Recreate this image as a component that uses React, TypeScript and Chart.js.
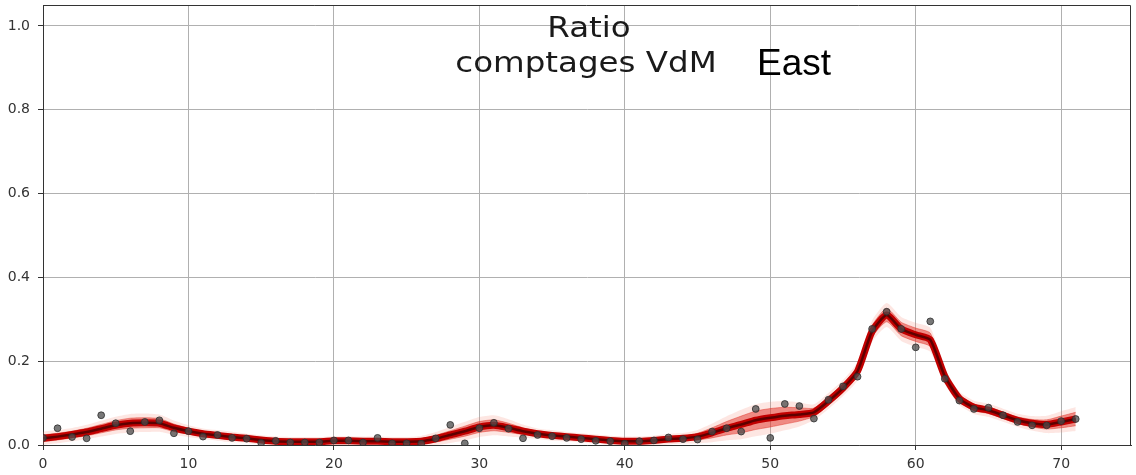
import { useEffect, useRef } from 'react';
import { Chart, registerables } from 'chart.js';

Chart.register(...registerables);

// hour index along the x axis
const hours = [
  0, 1, 2, 3, 4, 5, 6, 7, 8, 9,
  10, 11, 12, 13, 14, 15, 16, 17, 18, 19,
  20, 21, 22, 23, 24, 25, 26, 27, 28, 29,
  30, 31, 32, 33, 34, 35, 36, 37, 38, 39,
  40, 41, 42, 43, 44, 45, 46, 47, 48, 49,
  50, 51, 52, 53, 54, 55, 56, 57, 58, 59,
  60, 61, 62, 63, 64, 65, 66, 67, 68, 69,
  70, 71,
];

// measured count ratio (grey dots)
const observed = [
  0.017, 0.040, 0.019, 0.016, 0.071, 0.052, 0.033, 0.055, 0.059, 0.028,
  0.033, 0.020, 0.024, 0.017, 0.015, 0.005, 0.010, 0.006, 0.006, 0.006,
  0.011, 0.011, 0.006, 0.017, 0.004, 0.004, 0.003, 0.016, 0.048, 0.004,
  0.040, 0.053, 0.039, 0.016, 0.024, 0.021, 0.017, 0.014, 0.010, 0.009,
  0.003, 0.009, 0.011, 0.018, 0.014, 0.013, 0.032, 0.040, 0.032, 0.086,
  0.017, 0.098, 0.093, 0.063, 0.108, 0.140, 0.163, 0.277, 0.318, 0.277,
  0.233, 0.295, 0.158, 0.106, 0.086, 0.089, 0.071, 0.055, 0.047, 0.047,
  0.057, 0.062,
];

// fitted profile (dark red curve)
const trend = [
  0.016, 0.020, 0.025, 0.031, 0.039, 0.047, 0.052, 0.053, 0.052, 0.041,
  0.033, 0.027, 0.023, 0.019, 0.016, 0.012, 0.009, 0.008, 0.008, 0.008,
  0.010, 0.010, 0.009, 0.009, 0.008, 0.008, 0.009, 0.015, 0.024, 0.033,
  0.043, 0.047, 0.041, 0.033, 0.027, 0.023, 0.020, 0.017, 0.014, 0.011,
  0.009, 0.009, 0.011, 0.014, 0.016, 0.020, 0.029, 0.040, 0.049, 0.059,
  0.065, 0.070, 0.073, 0.078, 0.105, 0.136, 0.176, 0.271, 0.310, 0.277,
  0.263, 0.251, 0.164, 0.111, 0.090, 0.083, 0.071, 0.059, 0.052, 0.049,
  0.055, 0.062,
];

// half-width of the sampled band around the fit
const spread = [
  0.008, 0.008, 0.008, 0.009, 0.010, 0.011, 0.012, 0.012, 0.011, 0.009,
  0.007, 0.006, 0.006, 0.006, 0.005, 0.005, 0.005, 0.005, 0.005, 0.005,
  0.005, 0.005, 0.005, 0.005, 0.005, 0.005, 0.006, 0.008, 0.010, 0.012,
  0.013, 0.013, 0.011, 0.008, 0.006, 0.006, 0.005, 0.005, 0.005, 0.005,
  0.005, 0.005, 0.005, 0.006, 0.006, 0.008, 0.012, 0.016, 0.020, 0.022,
  0.022, 0.020, 0.016, 0.010, 0.010, 0.010, 0.012, 0.014, 0.016, 0.016,
  0.016, 0.016, 0.010, 0.008, 0.008, 0.008, 0.008, 0.008, 0.009, 0.011,
  0.014, 0.016,
];

const xTicks = [0, 10, 20, 30, 40, 50, 60, 70];
const yTicks = [0, 0.2, 0.4, 0.6, 0.8, 1.0];
const titleLines = ['Ratio', 'comptages VdM'];
const stationName = 'East';

const tickFont = { family: 'DejaVu Sans', size: 14 };

export default function App() {
  const canvasRef = useRef<HTMLCanvasElement>(null);

  useEffect(() => {
    document.body.style.margin = '0';
    const canvas = canvasRef.current;
    if (!canvas) return;

    const series = (vals: number[]) => hours.map((h, i) => ({ x: h, y: vals[i] }));
    const bandHi = hours.map((h, i) => ({ x: h, y: trend[i] + spread[i] }));
    const bandLo = hours.map((h, i) => ({ x: h, y: trend[i] - spread[i] }));
    const hazeHi = hours.map((h, i) => ({ x: h, y: trend[i] + spread[i] * 1.6 + 0.003 }));
    const hazeLo = hours.map((h, i) => ({ x: h, y: trend[i] - spread[i] * 1.6 - 0.003 }));

    const framePlugin = {
      id: 'frameAndTitle',
      afterDatasetsDraw(chart: Chart) {
        const { ctx, chartArea } = chart;
        ctx.save();
        ctx.strokeStyle = '#333';
        ctx.lineWidth = 1;
        ctx.beginPath();
        ctx.moveTo(chartArea.left, chartArea.top + 0.5);
        ctx.lineTo(chartArea.right - 0.5, chartArea.top + 0.5);
        ctx.lineTo(chartArea.right - 0.5, chartArea.bottom);
        ctx.stroke();
        ctx.restore();
      },
      afterDraw(chart: Chart) {
        const { ctx } = chart;
        ctx.save();
        ctx.fillStyle = '#1a1a1a';
        ctx.textAlign = 'center';
        ctx.textBaseline = 'alphabetic';
        ctx.font = '28px "DejaVu Sans"';
        // the heading is set a little wide
        ctx.save();
        ctx.translate(589, 37);
        ctx.scale(1.16, 1);
        ctx.fillText(titleLines[0], 0, 0);
        ctx.restore();
        ctx.save();
        ctx.translate(586, 72);
        ctx.scale(1.16, 1);
        ctx.fillText(titleLines[1], 0, 0);
        ctx.restore();
        ctx.fillStyle = '#000';
        ctx.textAlign = 'left';
        ctx.font = '37px "Liberation Sans"';
        ctx.fillText(stationName, 757, 75);
        ctx.restore();
      },
    };

    const chart = new Chart(canvas, {
      type: 'line',
      data: {
        datasets: [
          {
            label: 'observed',
            data: series(observed),
            showLine: false,
            pointRadius: 3.4,
            pointBackgroundColor: 'rgba(75,75,75,0.75)',
            pointBorderColor: 'rgba(45,45,45,0.8)',
            pointBorderWidth: 1,
          },
          {
            label: 'core',
            data: series(trend),
            borderColor: '#5e0000',
            borderWidth: 2.5,
            pointRadius: 0,
            tension: 0.2,
          },
          {
            label: 'trend',
            data: series(trend),
            borderColor: '#c20000',
            borderWidth: 7,
            pointRadius: 0,
            tension: 0.2,
          },
          {
            label: 'bandHi',
            data: bandHi,
            borderColor: 'rgba(225,50,40,0.45)',
            borderWidth: 1,
            pointRadius: 0,
            tension: 0.2,
            fill: '+1',
            backgroundColor: 'rgba(225,45,35,0.5)',
          },
          {
            label: 'bandLo',
            data: bandLo,
            borderColor: 'rgba(225,50,40,0.45)',
            borderWidth: 1,
            pointRadius: 0,
            tension: 0.2,
          },
          {
            label: 'hazeHi',
            data: hazeHi,
            borderWidth: 0,
            borderColor: 'rgba(0,0,0,0)',
            pointRadius: 0,
            tension: 0.2,
            fill: '+1',
            backgroundColor: 'rgba(245,130,110,0.2)',
          },
          {
            label: 'hazeLo',
            data: hazeLo,
            borderWidth: 0,
            borderColor: 'rgba(0,0,0,0)',
            pointRadius: 0,
            tension: 0.2,
          },
        ],
      },
      options: {
        animation: false,
        responsive: false,
        devicePixelRatio: 1,
        layout: { padding: { top: 2, right: 3, left: 0, bottom: 0 } },
        plugins: { legend: { display: false }, tooltip: { enabled: false } },
        scales: {
          x: {
            type: 'linear',
            min: 0,
            max: 74.8,
            afterFit: (s: any) => {
              s.height = 30;
              s.paddingLeft = 0;
              s.paddingRight = 0;
            },
            afterBuildTicks: (s: any) => { s.ticks = xTicks.map((v) => ({ value: v })); },
            grid: { color: '#b0b0b0', lineWidth: 1, tickLength: 5, tickColor: '#333' },
            border: { display: true, color: '#333', width: 1 },
            ticks: { font: tickFont, color: '#333', padding: 6, maxRotation: 0, autoSkip: false },
          },
          y: {
            type: 'linear',
            min: 0,
            max: 1.05,
            afterFit: (s: any) => {
              s.width = 43;
              s.paddingTop = 0;
              s.paddingBottom = 0;
            },
            afterBuildTicks: (s: any) => { s.ticks = yTicks.map((v) => ({ value: v })); },
            grid: { color: '#b0b0b0', lineWidth: 1, tickLength: 5, tickColor: '#333' },
            border: { display: true, color: '#333', width: 1 },
            ticks: {
              font: tickFont,
              color: '#333',
              padding: 8,
              autoSkip: false,
              callback: (v: any) => Number(v).toFixed(1),
            },
          },
        },
      },
      plugins: [framePlugin],
    });

    return () => chart.destroy();
  }, []);

  return (
    <div style={{ position: 'absolute', left: 0, top: 0, width: 1136, height: 475 }}>
      <canvas ref={canvasRef} width={1136} height={475} />
    </div>
  );
}
